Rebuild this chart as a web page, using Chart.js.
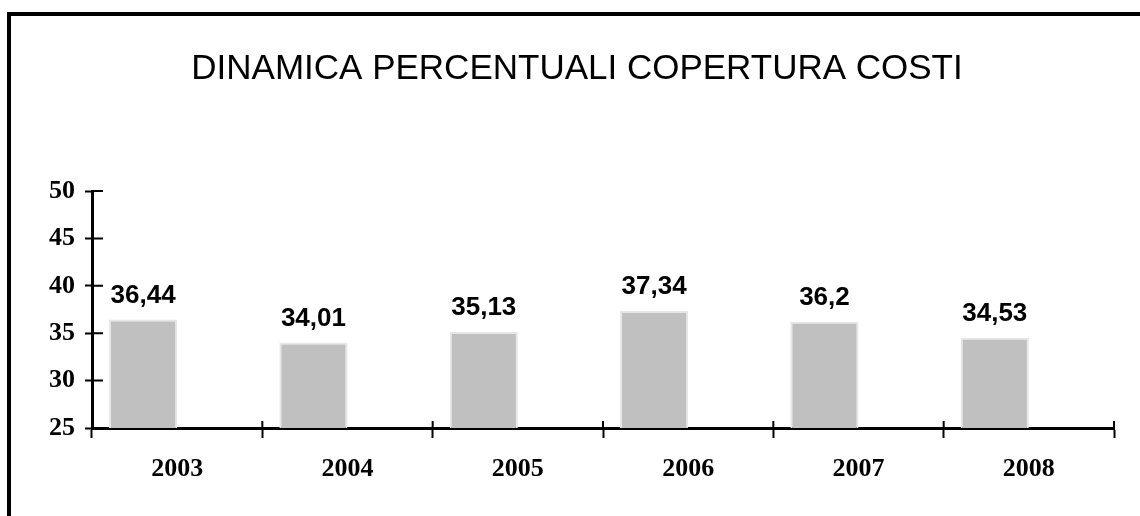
<!DOCTYPE html>
<html>
<head>
<meta charset="utf-8">
<script src="https://cdn.jsdelivr.net/npm/chart.js@4.4.1/dist/chart.umd.min.js"></script>
<style>
  html, body { margin: 0; padding: 0; background: #fff; }
  #wrap { position: relative; width: 1140px; height: 516px; overflow: hidden; }
  #frame { position: absolute; left: 7px; top: 12px; width: 1200px; height: 600px;
           border-left: 4px solid #000; border-top: 4px solid #000; box-sizing: border-box; pointer-events: none; }
  canvas { position: absolute; left: 0; top: 0; }
</style>
</head>
<body>
<div id="wrap">
  <canvas id="c" width="1140" height="516"></canvas>
  <div id="frame"></div>
</div>
<script>
const titleText = 'DINAMICA PERCENTUALI COPERTURA COSTI';
const categories = ['2003', '2004', '2005', '2006', '2007', '2008'];
const coverage = [36.44, 34.01, 35.13, 37.34, 36.2, 34.53];
const emptySeries = [null, null, null, null, null, null];
const yMin = 25;
const yMax = 50;
const yStep = 5;

const fmt = v => String(v).replace('.', ',');

const titlePlugin = {
  id: 'titlePlugin',
  afterDraw(chart) {
    const ctx = chart.ctx;
    ctx.save();
    ctx.fillStyle = '#000';
    ctx.font = '35px "Liberation Sans", Arial, sans-serif';
    ctx.textAlign = 'center';
    ctx.textBaseline = 'alphabetic';
    ctx.fillText(titleText, 577, 79);
    ctx.restore();
  }
};

const innerTicks = {
  id: 'innerTicks',
  afterDraw(chart) {
    const ctx = chart.ctx;
    const x = chart.scales.x, y = chart.scales.y;
    ctx.save();
    ctx.strokeStyle = '#000';
    ctx.lineWidth = 2;
    ctx.beginPath();
    y.ticks.forEach((t, i) => {
      const py = y.getPixelForTick(i);
      ctx.moveTo(y.right, py);
      ctx.lineTo(y.right + 11, py);
    });
    for (let i = 0; i <= categories.length; i++) {
      const px = x.getPixelForValue(i - 0.5);
      ctx.moveTo(px, x.top);
      ctx.lineTo(px, x.top - 7);
    }
    ctx.stroke();
    ctx.restore();
  }
};

const valueLabels = {
  id: 'valueLabels',
  afterDatasetsDraw(chart) {
    const ctx = chart.ctx;
    const meta = chart.getDatasetMeta(0);
    ctx.save();
    ctx.fillStyle = '#000';
    ctx.font = 'bold 26px "Liberation Sans", Arial, sans-serif';
    ctx.textAlign = 'center';
    ctx.textBaseline = 'alphabetic';
    meta.data.forEach((bar, i) => {
      ctx.fillText(fmt(coverage[i]), bar.x, bar.y - 17);
    });
    ctx.restore();
  }
};

new Chart(document.getElementById('c'), {
  type: 'bar',
  data: {
    labels: categories,
    datasets: [
      {
        data: coverage,
        backgroundColor: '#c0c0c0',
        borderColor: '#e6e6e6',
        borderWidth: 2,
        borderSkipped: 'start',
        categoryPercentage: 0.8,
        barPercentage: 1.0
      },
      {
        data: emptySeries,
        backgroundColor: '#c0c0c0',
        categoryPercentage: 0.8,
        barPercentage: 1.0
      }
    ]
  },
  options: {
    responsive: false,
    animation: false,
    devicePixelRatio: 1,
    layout: { padding: { left: 0, right: 26, top: 191, bottom: 0 } },
    plugins: {
      legend: { display: false },
      title: { display: false },
      tooltip: { enabled: false }
    },
    scales: {
      x: {
        offset: true,
        grid: {
          display: true,
          offset: true,
          drawOnChartArea: false,
          drawTicks: true,
          tickLength: 10,
          tickWidth: 2,
          tickColor: '#000'
        },
        border: { display: true, color: '#000', width: 3 },
        ticks: {
          color: '#000',
          padding: 16,
          font: { family: '"Liberation Serif", "Times New Roman", serif', size: 26, weight: 'bold' }
        },
        afterFit(s) { s.height = 88; }
      },
      y: {
        min: yMin,
        max: yMax,
        ticks: {
          stepSize: yStep,
          color: '#000',
          padding: 10,
          font: { family: '"Liberation Serif", "Times New Roman", serif', size: 26, weight: 'bold' }
        },
        grid: {
          display: true,
          drawOnChartArea: false,
          drawTicks: true,
          tickLength: 7,
          tickWidth: 2,
          tickColor: '#000'
        },
        border: { display: true, color: '#000', width: 3 },
        afterFit(s) { s.width = 92; }
      }
    }
  },
  plugins: [titlePlugin, innerTicks, valueLabels]
});
</script>
</body>
</html>
